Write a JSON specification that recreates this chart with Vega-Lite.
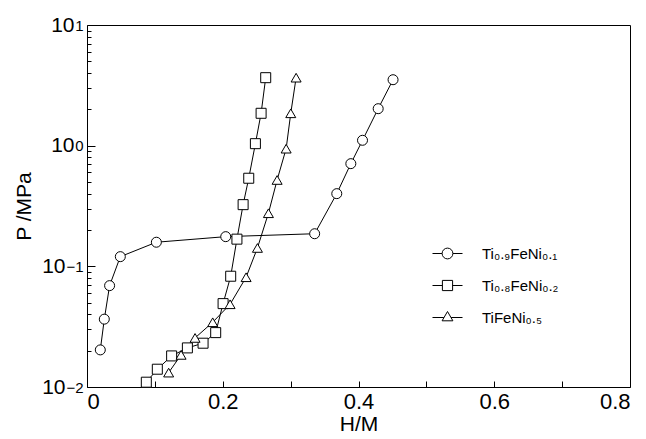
{
  "$schema": "https://vega.github.io/schema/vega-lite/v6.json",
  "width": 543,
  "height": 362,
  "autosize": "none",
  "padding": {"left": 87, "top": 25, "right": 16, "bottom": 52},
  "background": "white",
  "config": {
    "view": {"stroke": "black", "strokeWidth": 1},
    "font": "Liberation Sans",
    "axis": {"domain": false, "grid": false, "tickColor": "black", "labelColor": "black", "titleColor": "black", "labelFont": "Liberation Sans", "titleFont": "Liberation Sans", "titleFontWeight": "normal"}
  },
  "data": {
    "values": [
      {"s": "Ti₀.₉FeNi₀.₁", "h": 0.0196, "p": 0.0203},
      {"s": "Ti₀.₉FeNi₀.₁", "h": 0.0255, "p": 0.0365},
      {"s": "Ti₀.₉FeNi₀.₁", "h": 0.0333, "p": 0.0692},
      {"s": "Ti₀.₉FeNi₀.₁", "h": 0.0491, "p": 0.1203},
      {"s": "Ti₀.₉FeNi₀.₁", "h": 0.1022, "p": 0.1584},
      {"s": "Ti₀.₉FeNi₀.₁", "h": 0.2044, "p": 0.1762},
      {"s": "Ti₀.₉FeNi₀.₁", "h": 0.3354, "p": 0.1863},
      {"s": "Ti₀.₉FeNi₀.₁", "h": 0.368, "p": 0.4003},
      {"s": "Ti₀.₉FeNi₀.₁", "h": 0.3887, "p": 0.7095},
      {"s": "Ti₀.₉FeNi₀.₁", "h": 0.4059, "p": 1.108},
      {"s": "Ti₀.₉FeNi₀.₁", "h": 0.429, "p": 2.025},
      {"s": "Ti₀.₉FeNi₀.₁", "h": 0.4509, "p": 3.52},
      {"s": "Ti₀.₈FeNi₀.₂", "h": 0.0874, "p": 0.01096},
      {"s": "Ti₀.₈FeNi₀.₂", "h": 0.1036, "p": 0.01404},
      {"s": "Ti₀.₈FeNi₀.₂", "h": 0.1247, "p": 0.0181},
      {"s": "Ti₀.₈FeNi₀.₂", "h": 0.1479, "p": 0.02109},
      {"s": "Ti₀.₈FeNi₀.₂", "h": 0.171, "p": 0.02306},
      {"s": "Ti₀.₈FeNi₀.₂", "h": 0.1896, "p": 0.02823},
      {"s": "Ti₀.₈FeNi₀.₂", "h": 0.2005, "p": 0.0491},
      {"s": "Ti₀.₈FeNi₀.₂", "h": 0.2117, "p": 0.0828},
      {"s": "Ti₀.₈FeNi₀.₂", "h": 0.2209, "p": 0.168},
      {"s": "Ti₀.₈FeNi₀.₂", "h": 0.23, "p": 0.3245},
      {"s": "Ti₀.₈FeNi₀.₂", "h": 0.2383, "p": 0.537},
      {"s": "Ti₀.₈FeNi₀.₂", "h": 0.2481, "p": 1.039},
      {"s": "Ti₀.₈FeNi₀.₂", "h": 0.2565, "p": 1.855},
      {"s": "Ti₀.₈FeNi₀.₂", "h": 0.2633, "p": 3.66},
      {"s": "TiFeNi₀.₅", "h": 0.1203, "p": 0.01316},
      {"s": "TiFeNi₀.₅", "h": 0.1386, "p": 0.01845},
      {"s": "TiFeNi₀.₅", "h": 0.1592, "p": 0.02551},
      {"s": "TiFeNi₀.₅", "h": 0.1852, "p": 0.0344},
      {"s": "TiFeNi₀.₅", "h": 0.2108, "p": 0.0485},
      {"s": "TiFeNi₀.₅", "h": 0.2344, "p": 0.0812},
      {"s": "TiFeNi₀.₅", "h": 0.2511, "p": 0.142},
      {"s": "TiFeNi₀.₅", "h": 0.2673, "p": 0.2754},
      {"s": "TiFeNi₀.₅", "h": 0.2801, "p": 0.5196},
      {"s": "TiFeNi₀.₅", "h": 0.2934, "p": 0.9443},
      {"s": "TiFeNi₀.₅", "h": 0.3002, "p": 1.855},
      {"s": "TiFeNi₀.₅", "h": 0.3081, "p": 3.66}
    ]
  },
  "layer": [
    {
      "mark": {"type": "line", "color": "black", "strokeWidth": 1},
      "encoding": {
        "x": {"field": "h", "type": "quantitative", "scale": {"domain": [0, 0.8], "nice": false, "zero": false},
          "axis": {"title": "H/M", "titleFontSize": 21, "titlePadding": 1, "values": [0, 0.1, 0.2, 0.3, 0.4, 0.5, 0.6, 0.7, 0.8], "labelExpr": "round(datum.value*10) % 2 == 0 ? (datum.value == 0 ? '0' : format(datum.value, '.1f')) : ''", "labelFontSize": 22, "tickSize": -6, "labelPadding": 10, "labelOverlap": false}},
        "y": {"field": "p", "type": "quantitative", "scale": {"type": "log", "domain": [0.01, 10], "nice": false},
          "axis": {"orient": "left", "title": "P /MPa", "titleFontSize": 21, "titlePadding": 7,
            "values": [0.01, 0.02, 0.03, 0.04, 0.05, 0.06, 0.07, 0.08, 0.09, 0.1, 0.2, 0.3, 0.4, 0.5, 0.6, 0.7, 0.8, 0.9, 1, 2, 3, 4, 5, 6, 7, 8, 9, 10],
            "labelExpr": "abs(log(datum.value)/LN10 - round(log(datum.value)/LN10)) < 0.000001 ? '10' : ''",
            "labelFontSize": 21, "labelOverlap": false, "labelDy": 3,
            "tickSize": {"condition": {"test": "abs(log(datum.value)/LN10 - round(log(datum.value)/LN10)) < 0.000001", "value": -8}, "value": -4},
            "labelPadding": {"condition": {"test": "datum.value < 0.5", "value": 30}, "value": 21}}},
        "detail": {"field": "s"}
      }
    },
    {
      "mark": {"type": "point", "filled": true, "fill": "white", "stroke": "black", "strokeWidth": 1, "size": 100, "opacity": 1},
      "encoding": {
        "x": {"field": "h", "type": "quantitative"},
        "y": {"field": "p", "type": "quantitative", "axis": null},
        "shape": {"field": "s", "type": "nominal", "scale": {"domain": ["Ti₀.₉FeNi₀.₁", "Ti₀.₈FeNi₀.₂", "TiFeNi₀.₅"], "range": ["circle", "square", "triangle-up"]}, "legend": null}
      }
    },
    {
      "transform": [{"filter": "datum.h < 0"}],
      "mark": {"type": "point", "filled": false, "color": "black", "strokeWidth": 1, "opacity": 1, "size": 900},
      "encoding": {
        "x": {"field": "h", "type": "quantitative"},
        "y": {"field": "p", "type": "quantitative",
          "axis": {"orient": "left", "title": null, "values": [0.01, 0.1, 1, 10], "labelExpr": "datum.value < 0.05 ? '−2' : datum.value < 0.5 ? '−1' : datum.value < 5 ? '0' : '1'", "labelFontSize": 15, "labelAlign": "right", "labelPadding": 4, "labelDy": -6, "ticks": false, "tickSize": 0}},
        "shape": {"field": "s", "type": "nominal",
          "scale": {"domain": ["Ti₀.₉FeNi₀.₁", "Ti₀.₈FeNi₀.₂", "TiFeNi₀.₅"],
            "range": [
              "M-1,0L-0.36,0M0.36,0L1,0M0.36,0A0.36,0.36,0,1,1,-0.36,0A0.36,0.36,0,1,1,0.36,0Z",
              "M-1,0L-0.34,0M0.34,0L1,0M-0.34,-0.34L0.34,-0.34L0.34,0.34L-0.34,0.34Z",
              "M-1,0L-0.24,0M0.24,0L1,0M0,-0.4L0.36,0.22L-0.36,0.22Z"
            ]},
          "legend": {"title": null, "orient": "none", "legendX": 345, "legendY": 213, "padding": 0, "rowPadding": 8, "symbolSize": 900, "symbolStrokeWidth": 1, "symbolStrokeColor": "black", "symbolFillColor": "white", "symbolOpacity": 1, "labelFontSize": 15, "labelOffset": 19, "labelFont": "Liberation Sans", "labelColor": "black",
            "encode": {"symbols": {"enter": {"stroke": {"value": "black"}, "opacity": {"value": 1}, "strokeWidth": {"value": 1}}, "update": {"stroke": {"value": "black"}, "opacity": {"value": 1}, "strokeWidth": {"value": 1}, "size": {"value": 900}}}}}
        }
      }
    }
  ],
  "resolve": {"scale": {"shape": "independent"}, "axis": {"y": "independent"}}
}
